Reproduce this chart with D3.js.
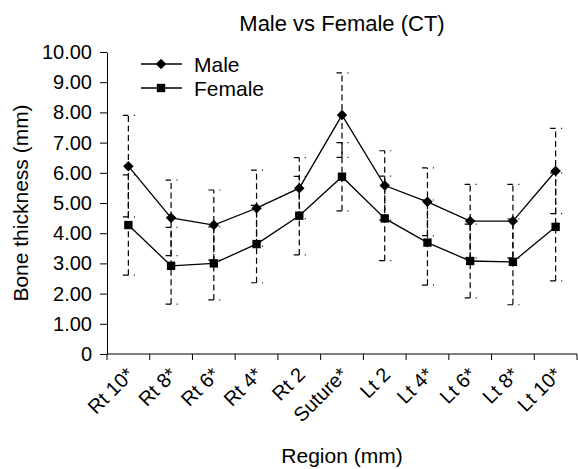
<!DOCTYPE html>
<html>
<head>
<meta charset="utf-8">
<script src="https://cdn.jsdelivr.net/npm/d3@7"></script>
<style>
  body { margin: 0; background: #fff; }
  text { font-family: "Liberation Sans", Arial, sans-serif; fill: #000; }
</style>
</head>
<body>
<div class="chart"></div>
<script>
var width = 579;
var height = 469;

var regions = ["Rt 10*", "Rt 8*", "Rt 6*", "Rt 4*", "Rt 2", "Suture*", "Lt 2", "Lt 4*", "Lt 6*", "Lt 8*", "Lt 10*"];
var maleMean   = [6.22, 4.51, 4.27, 4.83, 5.49, 7.91, 5.58, 5.04, 4.40, 4.40, 6.06];
var maleSD     = [1.68, 1.25, 1.16, 1.26, 1.01, 1.40, 1.15, 1.12, 1.22, 1.22, 1.41];
var femaleMean = [4.27, 2.92, 3.00, 3.64, 4.58, 5.87, 4.49, 3.69, 3.08, 3.05, 4.21];
var femaleSD   = [1.66, 1.27, 1.21, 1.28, 1.30, 1.13, 1.40, 1.41, 1.22, 1.42, 1.79];
var yTicks = [0, 1, 2, 3, 4, 5, 6, 7, 8, 9, 10];

var margin = {top: 52, right: 2, bottom: 115, left: 107};

var svg = d3.select(".chart")
    .append("svg")
    .attr("width", width)
    .attr("height", height);

var x = d3.scaleBand()
    .domain(regions)
    .range([margin.left, width - margin.right])
    .padding(0);

var y = d3.scaleLinear()
    .domain([0, 10])
    .range([height - margin.bottom, margin.top]);

var cx = function(i){ return x(regions[i]) + x.bandwidth() / 2; };

// y axis
var yAxis = svg.append("g")
    .attr("transform", "translate(" + margin.left + ",0)")
    .call(d3.axisLeft(y)
        .tickValues(yTicks)
        .tickSize(7)
        .tickSizeOuter(0)
        .tickPadding(8)
        .tickFormat(function(d){ return d === 0 ? "0" : d.toFixed(2); }));
yAxis.select(".domain").attr("stroke", "#000");
yAxis.selectAll(".tick line").attr("stroke", "#000");
yAxis.selectAll("text")
    .attr("font-size", "20px")
    .attr("font-family", "Liberation Sans, Arial, sans-serif")
    .attr("fill", "#000");

// x axis: ticks at the band edges
var xBase = y(0);
svg.append("line")
    .attr("x1", margin.left).attr("x2", width - margin.right)
    .attr("y1", xBase).attr("y2", xBase)
    .attr("stroke", "#000");
var edges = regions.map(function(r){ return x(r); }).concat([x.range()[1]]);
svg.selectAll(".xtick")
    .data(edges)
    .enter()
    .append("line")
    .attr("class", "xtick")
    .attr("x1", d => d).attr("x2", d => d)
    .attr("y1", xBase).attr("y2", xBase + 6)
    .attr("stroke", "#000");

svg.selectAll(".xlabel")
    .data(regions)
    .enter()
    .append("text")
    .attr("class", "xlabel")
    .attr("font-size", "20px")
    .attr("text-anchor", "end")
    .attr("transform", function(d, i){
        return "translate(" + (cx(i) + 7) + "," + (xBase + 22) + ") rotate(-45)";
    })
    .text(d => d);

// error bars
var series = [
    {name: "Male", mean: maleMean, sd: maleSD},
    {name: "Female", mean: femaleMean, sd: femaleSD}
];

series.forEach(function(s){
    var g = svg.append("g").attr("class", "err");
    s.mean.forEach(function(m, i){
        var px = cx(i);
        g.append("line")
            .attr("x1", px).attr("x2", px)
            .attr("y1", y(m - s.sd[i])).attr("y2", y(m + s.sd[i]))
            .attr("stroke", "#000")
            .attr("stroke-width", 1.2)
            .attr("stroke-dasharray", "6,3.5");
        [m - s.sd[i], m + s.sd[i]].forEach(function(v){
            g.append("line")
                .attr("x1", px - 5.5).attr("x2", px + 6.5)
                .attr("y1", y(v)).attr("y2", y(v))
                .attr("stroke", "#000")
                .attr("stroke-width", 1.2)
                .attr("stroke-dasharray", "5.5,5.5,1");
        });
    });
});

// lines
var line = d3.line()
    .x(function(d, i){ return cx(i); })
    .y(function(d){ return y(d); });

series.forEach(function(s){
    svg.append("path")
        .datum(s.mean)
        .attr("d", line)
        .attr("fill", "none")
        .attr("stroke", "#000")
        .attr("stroke-width", 1.3);
});

// markers
var diamond = d3.symbol().type(d3.symbolSquare).size(55);
var square = d3.symbol().type(d3.symbolSquare).size(70);

svg.selectAll(".male-pt")
    .data(maleMean)
    .enter()
    .append("path")
    .attr("class", "male-pt")
    .attr("d", diamond)
    .attr("transform", (d, i) => "translate(" + cx(i) + "," + y(d) + ") rotate(45)")
    .attr("fill", "#000");

svg.selectAll(".female-pt")
    .data(femaleMean)
    .enter()
    .append("path")
    .attr("class", "female-pt")
    .attr("d", square)
    .attr("transform", (d, i) => "translate(" + cx(i) + "," + y(d) + ")")
    .attr("fill", "#000");

// legend
var legend = [
    {label: "Male", sym: diamond, rot: 45, y: 64},
    {label: "Female", sym: square, rot: 0, y: 88}
];
var lg = svg.selectAll(".legend")
    .data(legend)
    .enter()
    .append("g")
    .attr("class", "legend")
    .attr("transform", d => "translate(0," + d.y + ")");
lg.append("line")
    .attr("x1", 141).attr("x2", 182)
    .attr("y1", 0).attr("y2", 0)
    .attr("stroke", "#000")
    .attr("stroke-width", 1.3);
lg.append("path")
    .attr("d", d => d.sym())
    .attr("transform", d => "translate(161,0) rotate(" + d.rot + ")")
    .attr("fill", "#000");
lg.append("text")
    .attr("x", 194)
    .attr("y", 8)
    .attr("font-size", "21px")
    .text(d => d.label);

// titles
svg.append("text")
    .attr("x", (margin.left + width - margin.right) / 2)
    .attr("y", 31)
    .attr("text-anchor", "middle")
    .attr("font-size", "22px")
    .text("Male vs Female (CT)");

svg.append("text")
    .attr("x", (margin.left + width - margin.right) / 2)
    .attr("y", 463)
    .attr("text-anchor", "middle")
    .attr("font-size", "21px")
    .text("Region (mm)");

svg.append("text")
    .attr("transform", "translate(28," + ((margin.top + height - margin.bottom) / 2) + ") rotate(-90)")
    .attr("text-anchor", "middle")
    .attr("font-size", "21px")
    .text("Bone thickness (mm)");
</script>
</body>
</html>
